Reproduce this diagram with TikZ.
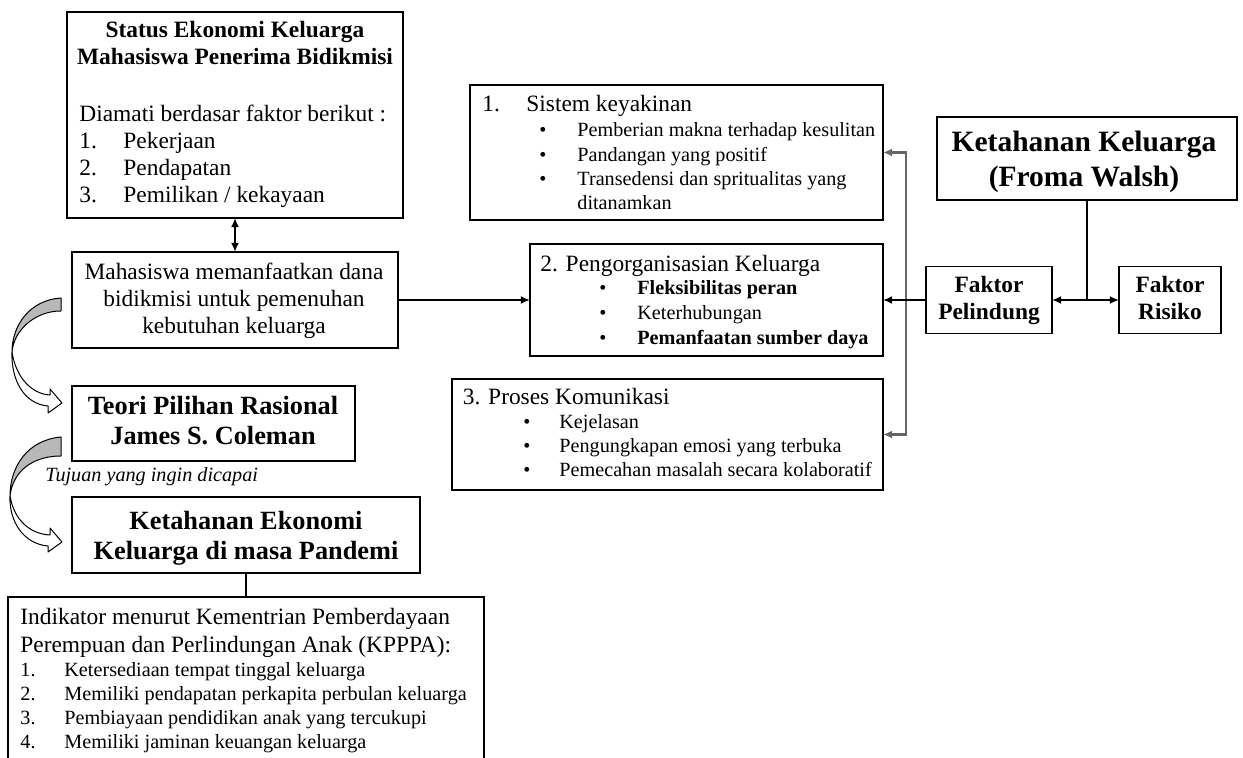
\documentclass[tikz,border=0pt]{standalone}
\usepackage{fontspec}
\setmainfont{Liberation Serif}
\usetikzlibrary{arrows.meta,calc,positioning}
\tikzset{
  frame/.style={draw, line width=0.9pt, inner sep=0pt, outer sep=0pt},
  arrow/.style={-{Latex[length=4.6pt,width=4pt]}, line width=0.8pt},
  dbl/.style={{Latex[length=4.6pt,width=4pt]}-{Latex[length=4.6pt,width=4pt]}, line width=0.8pt},
  curl/.style={draw, line width=0.5pt, line join=round}
}

\begin{document}
\begin{tikzpicture}[x=0.5pt, y=-0.5pt,
    normtxt/.style={inner sep=0pt, anchor=base west, font=\fontsize{11.7}{13.4}\selectfont},
    smalltxt/.style={inner sep=0pt, anchor=base west, font=\fontsize{10.1}{11.7}\selectfont},
    boldtxt/.style={inner sep=0pt, anchor=base, font=\fontsize{11.7}{13.4}\selectfont\bfseries},
    bigtxt/.style={inner sep=0pt, anchor=base, font=\fontsize{13.15}{15}\selectfont\bfseries},
    dot/.style={inner sep=0pt, anchor=base, font=\fontsize{10.1}{11.7}\selectfont}
]
    \useasboundingbox (0,0) rectangle (1243,758);
    \clip (0,0) rectangle (1243,758);

    % Status ekonomi
    \node[frame, minimum width=168pt, minimum height=103pt] (stat) at (235,115) {};
    \node[boldtxt] (stat-t1) at (235,38) {Status Ekonomi Keluarga};
    \node[boldtxt] (stat-t2) at (235,65) {Mahasiswa Penerima Bidikmisi};
    \node[normtxt] (stat-t3) at (79,122) {Diamati berdasar faktor berikut :};
    \foreach \t [count=\i] in {Pekerjaan, Pendapatan, {Pemilikan / kekayaan}} {
      \node[normtxt] (stat-n\i) at (79,122+27*\i) {\i.};
      \node[normtxt] (stat-i\i) at (123,122+27*\i) {\t};
    }

    % Pemanfaatan dana
    \node[frame, minimum width=163pt, minimum height=48pt] (use) at (235,300) {};
    \node[normtxt, anchor=base] (use-t1) at (234,280) {Mahasiswa memanfaatkan dana};
    \node[normtxt, anchor=base] (use-t2) at (234,307) {bidikmisi untuk pemenuhan};
    \node[normtxt, anchor=base] (use-t3) at (234,334) {kebutuhan keluarga};
    \draw[dbl] (stat) -- (use);

    % Teori
    \node[frame, minimum width=141.5pt, minimum height=37.5pt] (teori) at (213.5,423.5) {};
    \node[bigtxt] (teori-t1) at (213,415) {Teori Pilihan Rasional};
    \node[bigtxt] (teori-t2) at (213,445) {James S. Coleman};
    \node[smalltxt, font=\fontsize{10.1}{11.7}\selectfont\itshape] (tujuan) at (45,482) {Tujuan yang ingin dicapai};

    % Ketahanan ekonomi
    \node[frame, minimum width=174pt, minimum height=38pt] (ked) at (246,535) {};
    \node[bigtxt] (ked-t1) at (246,530) {Ketahanan Ekonomi};
    \node[bigtxt] (ked-t2) at (246,560) {Keluarga di masa Pandemi};

    % Indikator KPPPA
    \node[frame, minimum width=238pt, minimum height=96.5pt] (ind) at (246,693.5) {};
    \node[normtxt] (ind-t1) at (20,625) {Indikator menurut Kementrian Pemberdayaan};
    \node[normtxt] (ind-t2) at (20,653) {Perempuan dan Perlindungan Anak (KPPPA):};
    \foreach \t [count=\i] in {Ketersediaan tempat tinggal keluarga, Memiliki pendapatan perkapita perbulan keluarga, Pembiayaan pendidikan anak yang tercukupi, Memiliki jaminan keuangan keluarga} {
      \node[smalltxt] (ind-n\i) at (20,653+24*\i) {\i.};
      \node[smalltxt] (ind-i\i) at (64,653+24*\i) {\t};
    }
    \draw[line width=0.8pt] (ked) -- (ind);

    % Curved arrows
    \path[curl, fill=black!28] (61,298) .. controls (30,300) and (12,325) .. (12,352) .. controls (14,330) and (35,311) .. (61,311) -- cycle;
    \path[curl, fill=white] (12,352) .. controls (16,378) and (32,394) .. (50,395) -- (50,389) -- (62,403) -- (48,413) -- (48,406) .. controls (24,404) and (11,380) .. (12,352) -- cycle;
    \path[curl, fill=black!28] (61,437) .. controls (28,440) and (10,466) .. (10,496) .. controls (13,470) and (34,456) .. (61,456) -- cycle;
    \path[curl, fill=white] (10,496) .. controls (14,520) and (30,534) .. (50,535) -- (50,528) -- (62,542) -- (48,552) -- (48,546) .. controls (24,544) and (9,522) .. (10,496) -- cycle;

    % Sistem keyakinan
    \node[frame, minimum width=206.5pt, minimum height=67.5pt] (bel) at (676.5,152.5) {};
    \node[normtxt] (bel-n) at (482,112) {1.};
    \node[normtxt] (bel-t) at (526,112) {Sistem keyakinan};
    \foreach \t/\y [count=\i] in {Pemberian makna terhadap kesulitan/137, Pandangan yang positif/161.5, Transedensi dan spritualitas yang/186} {
      \node[dot] (bel-d\i) at (543,\y) {\textbullet};
      \node[smalltxt] (bel-i\i) at (577,\y) {\t};
    }
    \node[smalltxt] (bel-i4) at (577,209.5) {ditanamkan};

    % Pengorganisasian
    \node[frame, minimum width=176.5pt, minimum height=56pt] (org) at (706.5,300) {};
    \node[normtxt] (org-t) at (540,272) {2. Pengorganisasian Keluarga};
    \foreach \t/\y [count=\i] in {\textbf{Fleksibilitas peran}/295, Keterhubungan/320, \textbf{Pemanfaatan sumber daya}/344.5} {
      \node[dot] (org-d\i) at (603,\y) {\textbullet};
      \node[smalltxt] (org-i\i) at (637,\y) {\t};
    }

    % Komunikasi
    \node[frame, minimum width=215.5pt, minimum height=55.5pt] (kom) at (667.5,434.5) {};
    \node[normtxt] (kom-t) at (462.5,405) {3. Proses Komunikasi};
    \foreach \t/\y [count=\i] in {Kejelasan/428.5, Pengungkapan emosi yang terbuka/452.5, Pemecahan masalah secara kolaboratif/476.5} {
      \node[dot] (kom-d\i) at (527,\y) {\textbullet};
      \node[smalltxt] (kom-i\i) at (559,\y) {\t};
    }

    % Froma Walsh
    \node[frame, minimum width=150pt, minimum height=41.5pt] (kk) at (1087,158.5) {};
    \node[bigtxt, font=\fontsize{14.75}{17}\selectfont\bfseries] (kk-t1) at (1084,152) {Ketahanan Keluarga};
    \node[bigtxt, font=\fontsize{14.75}{17}\selectfont\bfseries] (kk-t2) at (1084,187) {(Froma Walsh)};
    \node[frame, minimum width=63pt, minimum height=33.5pt] (pel) at (989,300) {};
    \node[boldtxt] (pel-t1) at (989,293) {Faktor};
    \node[boldtxt] (pel-t2) at (989,320) {Pelindung};
    \node[frame, minimum width=51pt, minimum height=33.5pt] (ris) at (1170,300) {};
    \node[boldtxt] (ris-t1) at (1170,293) {Faktor};
    \node[boldtxt] (ris-t2) at (1170,320) {Risiko};

    % Connectors
    \coordinate (split) at (906,300);
    \coordinate (fork) at (1087,300);
    \draw[arrow] (use) -- (org);
    \draw[arrow, black!60, line width=1.1pt] (split) |- (bel);
    \draw[arrow, black!60, line width=1.1pt] (split) |- (kom);
    \draw[arrow] (pel) -- (org);
    \draw[line width=0.8pt] (kk) -- (fork);
    \draw[dbl] (pel) -- (ris);

\end{tikzpicture}
\end{document}
